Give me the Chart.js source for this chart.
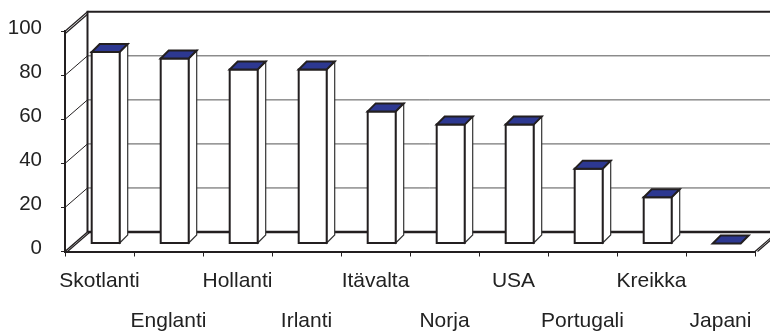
<!DOCTYPE html>
<html>
<head>
<meta charset="utf-8">
<script src="https://cdn.jsdelivr.net/npm/chart.js@4"></script>
<style>
  html, body { margin: 0; padding: 0; background: #fff; }
  canvas { display: block; }
</style>
</head>
<body>
<canvas id="c" width="770" height="332"></canvas>
<script>
// Data
const categories = ['Skotlanti', 'Englanti', 'Hollanti', 'Irlanti', 'Itävalta', 'Norja', 'USA', 'Portugali', 'Kreikka', 'Japani'];
const values = [87, 84, 79, 79, 60, 54, 54, 34, 21, 0];
const yTicks = [0, 20, 40, 60, 80, 100];

// Styling
const INK = '#231f20';
const TOP_BLUE = '#2d3891';
const GRID = '#555555';
const FONT = "'Liberation Sans', Arial, sans-serif";
const WALL = { dx: 22.5, dy: -19.5 };              // depth of the back wall
const BAR = { dx: 6.2, dy: -8, depthX: 8, depthY: -8 }; // bar placement and thickness

function seg(ctx, x1, y1, x2, y2, w, c) {
  ctx.beginPath();
  ctx.moveTo(x1, y1);
  ctx.lineTo(x2, y2);
  ctx.lineWidth = w;
  ctx.strokeStyle = c;
  ctx.stroke();
}

function poly(ctx, pts, fill, stroke, w) {
  ctx.beginPath();
  ctx.moveTo(pts[0][0], pts[0][1]);
  for (let i = 1; i < pts.length; i++) ctx.lineTo(pts[i][0], pts[i][1]);
  ctx.closePath();
  ctx.fillStyle = fill;
  ctx.fill();
  ctx.lineJoin = 'miter';
  ctx.lineWidth = w;
  ctx.strokeStyle = stroke;
  ctx.stroke();
}

// Side wall, back wall and floor of the 3D box
const walls = {
  id: 'walls',
  beforeDatasetsDraw(chart) {
    const { ctx, chartArea: a, scales: { y } } = chart;
    const bl = a.left + WALL.dx, br = a.right + WALL.dx;
    const y0 = y.getPixelForValue(0), yTop = y.getPixelForValue(100);
    ctx.save();
    ctx.lineCap = 'butt';
    yTicks.forEach(v => {
      if (v <= 0 || v >= 100) return;
      const yf = y.getPixelForValue(v);
      const yb = yf + WALL.dy;
      seg(ctx, bl, yb, br, yb, 1, GRID);
      seg(ctx, a.left, yf, bl, yb, 1, INK);
    });
    // back wall top and left edges
    seg(ctx, bl, yTop + WALL.dy, br, yTop + WALL.dy, 2, INK);
    seg(ctx, bl, yTop + WALL.dy - 1, bl, y0 + WALL.dy, 2, INK);
    // floor back edge
    seg(ctx, bl, y0 + WALL.dy, br, y0 + WALL.dy, 2.5, INK);
    // side wall top edge (double)
    seg(ctx, a.left, yTop, bl, yTop + WALL.dy, 1.2, INK);
    seg(ctx, a.left, yTop + 2.5, bl, yTop + WALL.dy + 2.5, 1.2, INK);
    // floor left and right edges (double)
    seg(ctx, a.left, y0, bl, y0 + WALL.dy, 1.5, INK);
    seg(ctx, a.left + 2.5, y0, bl + 2.5, y0 + WALL.dy, 1.2, INK);
    seg(ctx, a.right, y0, br, y0 + WALL.dy, 1.2, INK);
    seg(ctx, a.right + 2.5, y0, br + 2.5, y0 + WALL.dy, 1.2, INK);
    ctx.restore();
  }
};

// 3D columns built on the bar elements' own positions
const columns = {
  id: 'columns',
  afterDatasetsDraw(chart) {
    const { ctx } = chart;
    const meta = chart.getDatasetMeta(0);
    ctx.save();
    meta.data.forEach(el => {
      const p = el.getProps(['x', 'y', 'base', 'width'], true);
      const x0 = p.x - p.width / 2 + BAR.dx;
      const x1 = x0 + p.width;
      const yT = p.y + BAR.dy;
      const yB = p.base + BAR.dy;
      const ddx = BAR.depthX, ddy = BAR.depthY;
      if (yB - yT > 0.5) {
        // right side face
        poly(ctx, [[x1, yT], [x1 + ddx, yT + ddy], [x1 + ddx, yB + ddy], [x1, yB]], '#ffffff', '#333333', 1.2);
        // front face
        poly(ctx, [[x0, yT], [x1, yT], [x1, yB], [x0, yB]], '#ffffff', INK, 2);
      }
      // top face
      poly(ctx, [[x0, yT], [x1, yT], [x1 + ddx, yT + ddy], [x0 + ddx, yT + ddy]], TOP_BLUE, INK, 2);
    });
    ctx.restore();
  }
};

new Chart(document.getElementById('c'), {
  type: 'bar',
  data: {
    labels: categories,
    datasets: [{
      data: values,
      backgroundColor: 'rgba(0,0,0,0)',
      borderWidth: 0,
      barPercentage: 28 / 69,
      categoryPercentage: 1
    }]
  },
  options: {
    responsive: false,
    animation: false,
    devicePixelRatio: 1,
    layout: { padding: { top: 30.5, right: 15, left: 0, bottom: 0 } },
    plugins: { legend: { display: false }, tooltip: { enabled: false } },
    scales: {
      x: {
        offset: true,
        grid: { offset: true, drawOnChartArea: false, tickLength: 5, color: INK, lineWidth: 1 },
        border: { display: true, color: INK, width: 2 },
        ticks: {
          autoSkip: false,
          maxRotation: 0,
          padding: 5,
          color: '#222',
          font: { family: FONT, size: 21, lineHeight: 1.905 },
          callback: (v, i) => (i % 2 === 0 ? [categories[i], ''] : ['', categories[i]])
        },
        afterFit: s => { s.height = 80.5; }
      },
      y: {
        min: 0,
        max: 100,
        afterBuildTicks: s => { s.ticks = yTicks.map(v => ({ value: v })); },
        grid: { drawOnChartArea: false, tickLength: 4, color: INK, lineWidth: 1 },
        border: { display: true, color: INK, width: 2 },
        ticks: {
          padding: 19,
          labelOffset: -3,
          color: '#222',
          font: { family: FONT, size: 20.5 }
        },
        afterFit: s => { s.width = 65; }
      }
    }
  },
  plugins: [walls, columns]
});
</script>
</body>
</html>
